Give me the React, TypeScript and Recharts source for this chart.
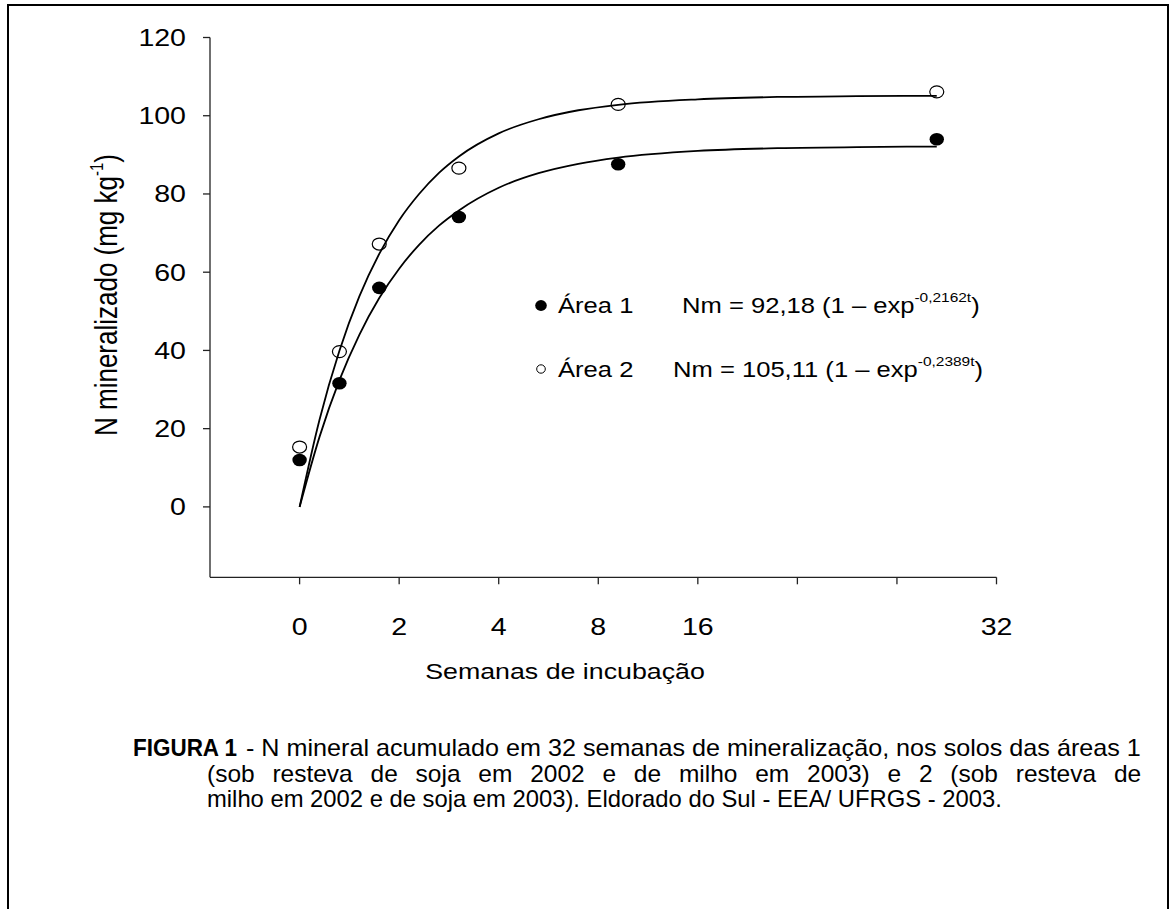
import React, { useLayoutEffect, useRef, useState } from 'react';
import { ComposedChart, Line, Scatter, XAxis, YAxis } from 'recharts';

// Text in this figure is drawn slightly wide, so every label gets a horizontal stretch
const SX = 1.19;
const FONT = '"Liberation Sans", Arial, Helvetica, sans-serif';

// Incubation sampling (weeks) and accumulated mineral N (mg/kg)
const WEEKS = [0, 2, 4, 8, 16, 32];
const AREA1_N = [12.0, 31.6, 56.0, 74.1, 87.6, 94.0];
const AREA2_N = [15.3, 39.7, 67.2, 86.6, 102.9, 106.1];

// Fitted curves Nm = N0 (1 - exp(-k t)), read at these weeks
const FIT_WEEKS = [0, 1, 2, 3, 4, 5, 6, 7, 8, 10, 12, 14, 16, 20, 24, 28, 32];
const FIT_AREA1 = [0, 17.9, 32.4, 44.0, 53.4, 60.9, 67.0, 71.9, 75.8, 81.6, 85.3, 87.7, 89.3, 91.0, 91.7, 92.0, 92.1];
const FIT_AREA2 = [0, 22.3, 39.9, 53.8, 64.7, 73.3, 80.0, 85.4, 89.6, 95.5, 99.1, 101.4, 102.8, 104.2, 104.8, 105.0, 105.1];

const X_TICKS = [0, 5, 10, 15, 20, 25, 30, 35];
const X_TICK_LABELS = ['0', '2', '4', '8', '16', '', '', '32'];
const Y_TICKS = [0, 20, 40, 60, 80, 100, 120];

const toPoints = (xs: number[], ys: number[]) => xs.map((t, i) => ({ t, n: ys[i] }));

const area1Points = toPoints(WEEKS, AREA1_N);
const area2Points = toPoints(WEEKS, AREA2_N);
const area1Fit = toPoints(FIT_WEEKS, FIT_AREA1);
const area2Fit = toPoints(FIT_WEEKS, FIT_AREA2);

const AXIS_COLOR = '#222';

const YTick = (props: any) => {
  const { x, y, payload } = props;
  return (
    <g transform={`translate(${x},${y}) scale(${SX},1)`}>
      <text x={0} y={0} dy="0.355em" textAnchor="end" fontSize={24} fontFamily={FONT} fill="#000">
        {payload.value}
      </text>
    </g>
  );
};

const XTick = (props: any) => {
  const { x, y, payload } = props;
  const idx = X_TICKS.indexOf(payload.value);
  const label = idx >= 0 ? X_TICK_LABELS[idx] : '';
  return (
    <g transform={`translate(${x},${y}) scale(${SX},1)`}>
      <text x={0} y={0} dy="0.71em" textAnchor="middle" fontSize={24} fontFamily={FONT} fill="#000">
        {label}
      </text>
    </g>
  );
};

const FilledDot = (props: any) => (
  <ellipse cx={props.cx} cy={props.cy} rx={7.2} ry={6.3} fill="#000" />
);

const OpenDot = (props: any) => (
  <ellipse cx={props.cx} cy={props.cy} rx={7} ry={6} fill="none" stroke="#000" strokeWidth={1.2} />
);

const Wide = ({ x, y, size, anchor = 'start', weight = 'normal', children }: any) => (
  <g transform={`translate(${x},${y}) scale(${SX},1)`}>
    <text x={0} y={0} fontSize={size} textAnchor={anchor} fontWeight={weight} fontFamily={FONT} fill="#000">
      {children}
    </text>
  </g>
);

// Caption: condensed face; the second line is justified by widening its word gaps
const CAPTION_SIZE = 23;
const CAPTION_LINES = [
  { x: 246, y: 756, width: 895, text: '- N mineral acumulado em 32 semanas de mineralização, nos solos das áreas 1' },
  { x: 207, y: 781.5, width: 934, text: '(sob resteva de soja em 2002 e de milho em 2003) e 2 (sob resteva de' },
  { x: 207, y: 807, width: 795, text: 'milho em 2002 e de soja em 2003). Eldorado do Sul - EEA/ UFRGS - 2003.' },
];

const Caption = () => {
  const refs = useRef<(SVGTextElement | null)[]>([]);
  const [layout, setLayout] = useState<{ scales: number[]; gap: number } | null>(null);

  useLayoutEffect(() => {
    const w = refs.current.map((el) => (el ? el.getComputedTextLength() : 0));
    if (!w[0] || !w[1] || !w[2]) return;
    const c1 = CAPTION_LINES[0].width / w[0];
    const c3 = CAPTION_LINES[2].width / w[2];
    const c2 = (c1 + c3) / 2;
    const spaces = CAPTION_LINES[1].text.split(' ').length - 1;
    const gap = Math.max(0, (CAPTION_LINES[1].width / c2 - w[1]) / spaces);
    setLayout({ scales: [c1, c2, c3], gap });
  }, []);

  const scales = layout ? layout.scales : [0.95, 0.95, 0.95];
  return (
    <g>
      <text
        x={133}
        y={756}
        textLength={104}
        lengthAdjust="spacingAndGlyphs"
        fontSize={CAPTION_SIZE}
        fontWeight="bold"
        fontFamily={FONT}
        fill="#000"
      >
        FIGURA 1
      </text>
      {CAPTION_LINES.map((line, i) => (
        <g key={i} transform={`translate(${line.x},${line.y}) scale(${scales[i]},1)`}>
          <text
            ref={(el) => {
              refs.current[i] = el;
            }}
            x={0}
            y={0}
            fontSize={CAPTION_SIZE}
            fontFamily={FONT}
            fill="#000"
            style={{ wordSpacing: layout && i === 1 ? layout.gap : 0 }}
          >
            {line.text}
          </text>
        </g>
      ))}
    </g>
  );
};

export default function App() {
  return (
    <div
      style={{
        position: 'absolute',
        left: 0,
        top: 0,
        width: 1171,
        height: 909,
        background: '#fff',
        overflow: 'hidden',
      }}
    >
      <div
        style={{
          position: 'absolute',
          left: 7,
          top: 4,
          width: 1162,
          height: 1000,
          border: '2px solid #000',
          boxSizing: 'border-box',
        }}
      />

      <div style={{ position: 'absolute', left: 0, top: 0 }}>
        <ComposedChart
          width={1171}
          height={700}
          margin={{ top: 37.5, right: 174.5, bottom: 0, left: 0 }}
        >
          <XAxis
            type="number"
            dataKey="t"
            domain={[-4.5, 35]}
            ticks={X_TICKS}
            allowDataOverflow
            height={122.7}
            stroke={AXIS_COLOR}
            strokeWidth={1.3}
            tickSize={7}
            tickMargin={34}
            tickLine={{ stroke: AXIS_COLOR, strokeWidth: 1.3 }}
            tick={<XTick />}
            interval={0}
          />
          <YAxis
            type="number"
            domain={[-18, 120]}
            ticks={Y_TICKS}
            allowDataOverflow
            width={210}
            stroke={AXIS_COLOR}
            strokeWidth={1.3}
            tickSize={7}
            tickMargin={17}
            tickLine={{ stroke: AXIS_COLOR, strokeWidth: 1.3 }}
            tick={<YTick />}
            interval={0}
          />
          <Line
            data={area2Fit}
            dataKey="n"
            type="monotone"
            stroke="#000"
            strokeWidth={1.8}
            dot={false}
            activeDot={false}
            isAnimationActive={false}
          />
          <Line
            data={area1Fit}
            dataKey="n"
            type="monotone"
            stroke="#000"
            strokeWidth={1.8}
            dot={false}
            activeDot={false}
            isAnimationActive={false}
          />
          <Scatter data={area2Points} dataKey="n" shape={<OpenDot />} isAnimationActive={false} />
          <Scatter data={area1Points} dataKey="n" shape={<FilledDot />} isAnimationActive={false} />
        </ComposedChart>
      </div>

      <svg
        width={1171}
        height={909}
        style={{ position: 'absolute', left: 0, top: 0, pointerEvents: 'none' }}
      >
        {/* axis titles */}
        <g transform={`translate(116.5,295) scale(${SX},1) rotate(-90)`}>
          <text x={0} y={0} textAnchor="middle" fontSize={26} fontFamily={FONT} fill="#000">
            N mineralizado (mg kg
            <tspan fontSize={15} dy={-11}>-1</tspan>
            <tspan dy={11}>)</tspan>
          </text>
        </g>
        <Wide x={565} y={679} size={22.5} anchor="middle">Semanas de incubação</Wide>

        {/* legend with fitted equations */}
        <ellipse cx={541} cy={305.5} rx={5.8} ry={5.4} fill="#000" />
        <Wide x={558} y={313} size={21.5}>Área 1</Wide>
        <Wide x={682} y={313} size={21.5}>
          Nm = 92,18 (1 – exp
          <tspan fontSize={13} dy={-11}>-0,2162t</tspan>
          <tspan dy={11}>)</tspan>
        </Wide>

        <ellipse cx={541} cy={369} rx={4.3} ry={4.2} fill="none" stroke="#000" strokeWidth={1} />
        <Wide x={558} y={376.5} size={21.5}>Área 2</Wide>
        <Wide x={673} y={376.5} size={21.5}>
          Nm = 105,11 (1 – exp
          <tspan fontSize={13} dy={-11}>-0,2389t</tspan>
          <tspan dy={11}>)</tspan>
        </Wide>

        <Caption />
      </svg>
    </div>
  );
}
